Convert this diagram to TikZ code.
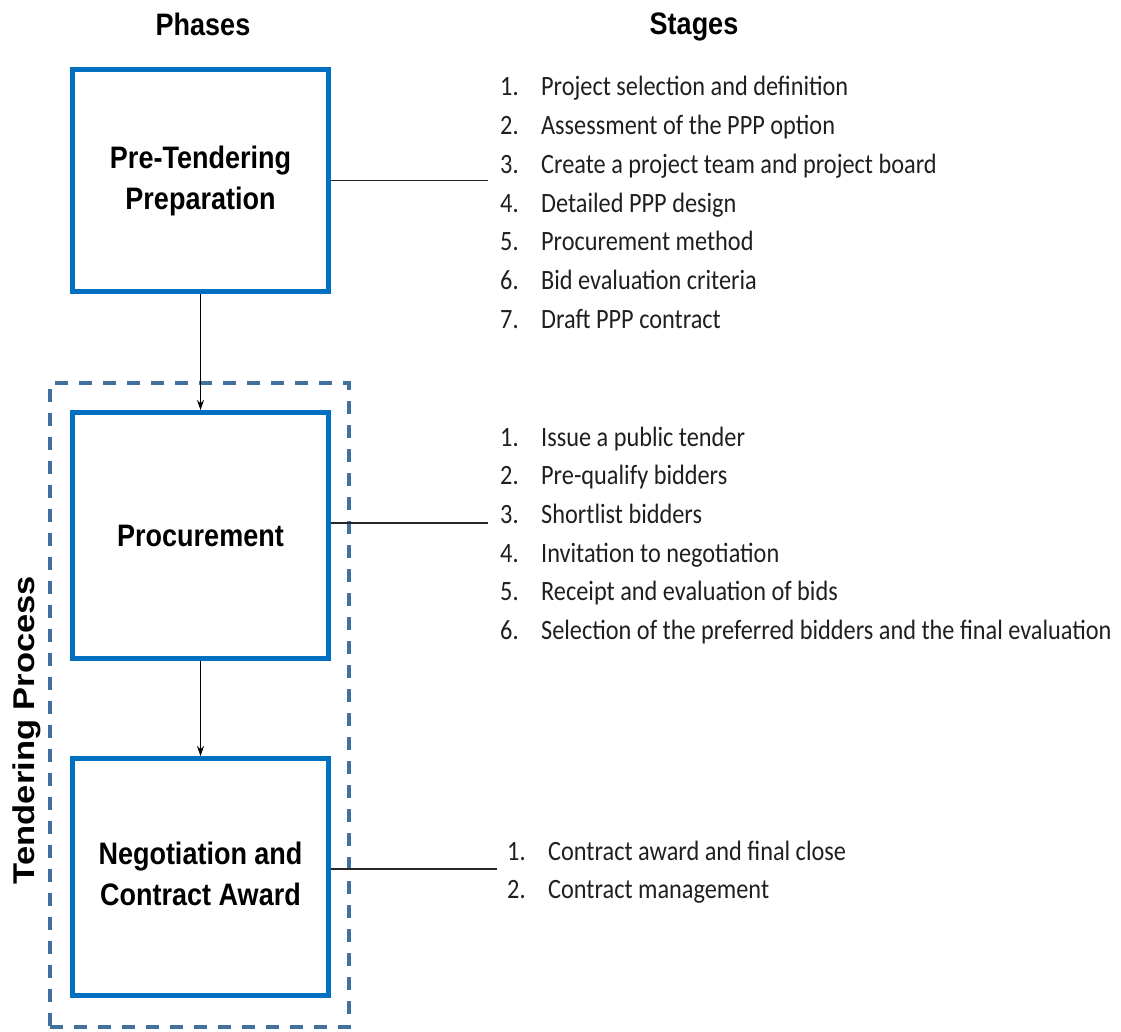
\documentclass[tikz,border=0pt]{standalone}
\usepackage{fontspec}
\setmainfont{Carlito}
\newfontfamily\hdfont{Liberation Sans}
\usetikzlibrary{arrows.meta}
\definecolor{boxblue}{RGB}{0,112,192}
\definecolor{dashblue}{RGB}{65,113,156}
\newcommand\vst[1]{\scalebox{1}[1.15]{#1}}
\newcommand\itm[2]{\makebox[41pt][l]{#1}#2}
\begin{document}
\begin{tikzpicture}[x=1pt,y=-1pt,
  phase/.style={draw=boxblue, line width=5pt, minimum width=256pt, inner sep=0pt,
    font=\hdfont\bfseries\fontsize{27}{35.6}\selectfont},
  head/.style={font=\hdfont\bfseries\fontsize{27}{32}\selectfont, inner sep=0pt, anchor=base},
  stagelist/.style={anchor=base west, inner sep=0pt, text=black!88,
    font=\fontsize{24.3}{33.65}\selectfont},
  conn/.style={line width=1.3pt, draw=black!85},
  arr/.style={line width=1.2pt, -{Stealth[length=10pt,width=7pt]}},
  group/.style={draw=dashblue, line width=3.8pt, dash pattern=on 13pt off 11pt}]
\useasboundingbox (0,0) rectangle (1121,1032);

% group frame
\node[group, minimum width=299pt, minimum height=644pt, inner sep=0pt] (grp) at (199.5,705) {};
\node[rotate=90, inner sep=0pt, font=\hdfont\bfseries\fontsize{30}{34}\selectfont] (tp) at (27,730)
  {\scalebox{1.15}[1]{Tendering Process}};

% headings
\node[head] (hphase) at (203,36) {\vst{Phases}};
\node[head] (hstage) at (694,35) {\vst{Stages}};

% phase boxes
\node[phase, minimum height=222pt] (b1) at (200.5,180.5)
  {\vst{\begin{tabular}{@{}c@{}}Pre-Tendering\\Preparation\end{tabular}}};
\node[phase, minimum height=246pt] (b2) at (200.5,535.5)
  {\vst{Procurement}};
\node[phase, minimum height=237pt] (b3) at (200.5,877)
  {\vst{\begin{tabular}{@{}c@{}}Negotiation and\\Contract Award\end{tabular}}};

% arrows
\draw[arr] (b1.south) -- (b2.north);
\draw[arr] (b2.south) -- (b3.north);

% connectors
\coordinate (c1) at (488,180.5);
\coordinate (c2) at (488,523);
\coordinate (c3) at (497,869);
\draw[conn] (c1 -| b1.east) -- (c1);
\draw[conn] (c2 -| b2.east) -- (c2);
\draw[conn] (c3 -| b3.east) -- (c3);

% stage lists
\node[stagelist] (l1) at (500,96) {\vst{\begin{tabular}[t]{@{}l@{}}
\itm{1.}{Project selection and definition}\\
\itm{2.}{Assessment of the PPP option}\\
\itm{3.}{Create a project team and project board}\\
\itm{4.}{Detailed PPP design}\\
\itm{5.}{Procurement method}\\
\itm{6.}{Bid evaluation criteria}\\
\itm{7.}{Draft PPP contract}
\end{tabular}}};
\node[stagelist] (l2) at (500,446) {\vst{\begin{tabular}[t]{@{}l@{}}
\itm{1.}{Issue a public tender}\\
\itm{2.}{Pre-qualify bidders}\\
\itm{3.}{Shortlist bidders}\\
\itm{4.}{Invitation to negotiation}\\
\itm{5.}{Receipt and evaluation of bids}\\
\itm{6.}{Selection of the preferred bidders and the final evaluation}
\end{tabular}}};
\node[stagelist] (l3) at (507,860) {\vst{\begin{tabular}[t]{@{}l@{}}
\itm{1.}{Contract award and final close}\\
\itm{2.}{Contract management}
\end{tabular}}};
\end{tikzpicture}
\end{document}
